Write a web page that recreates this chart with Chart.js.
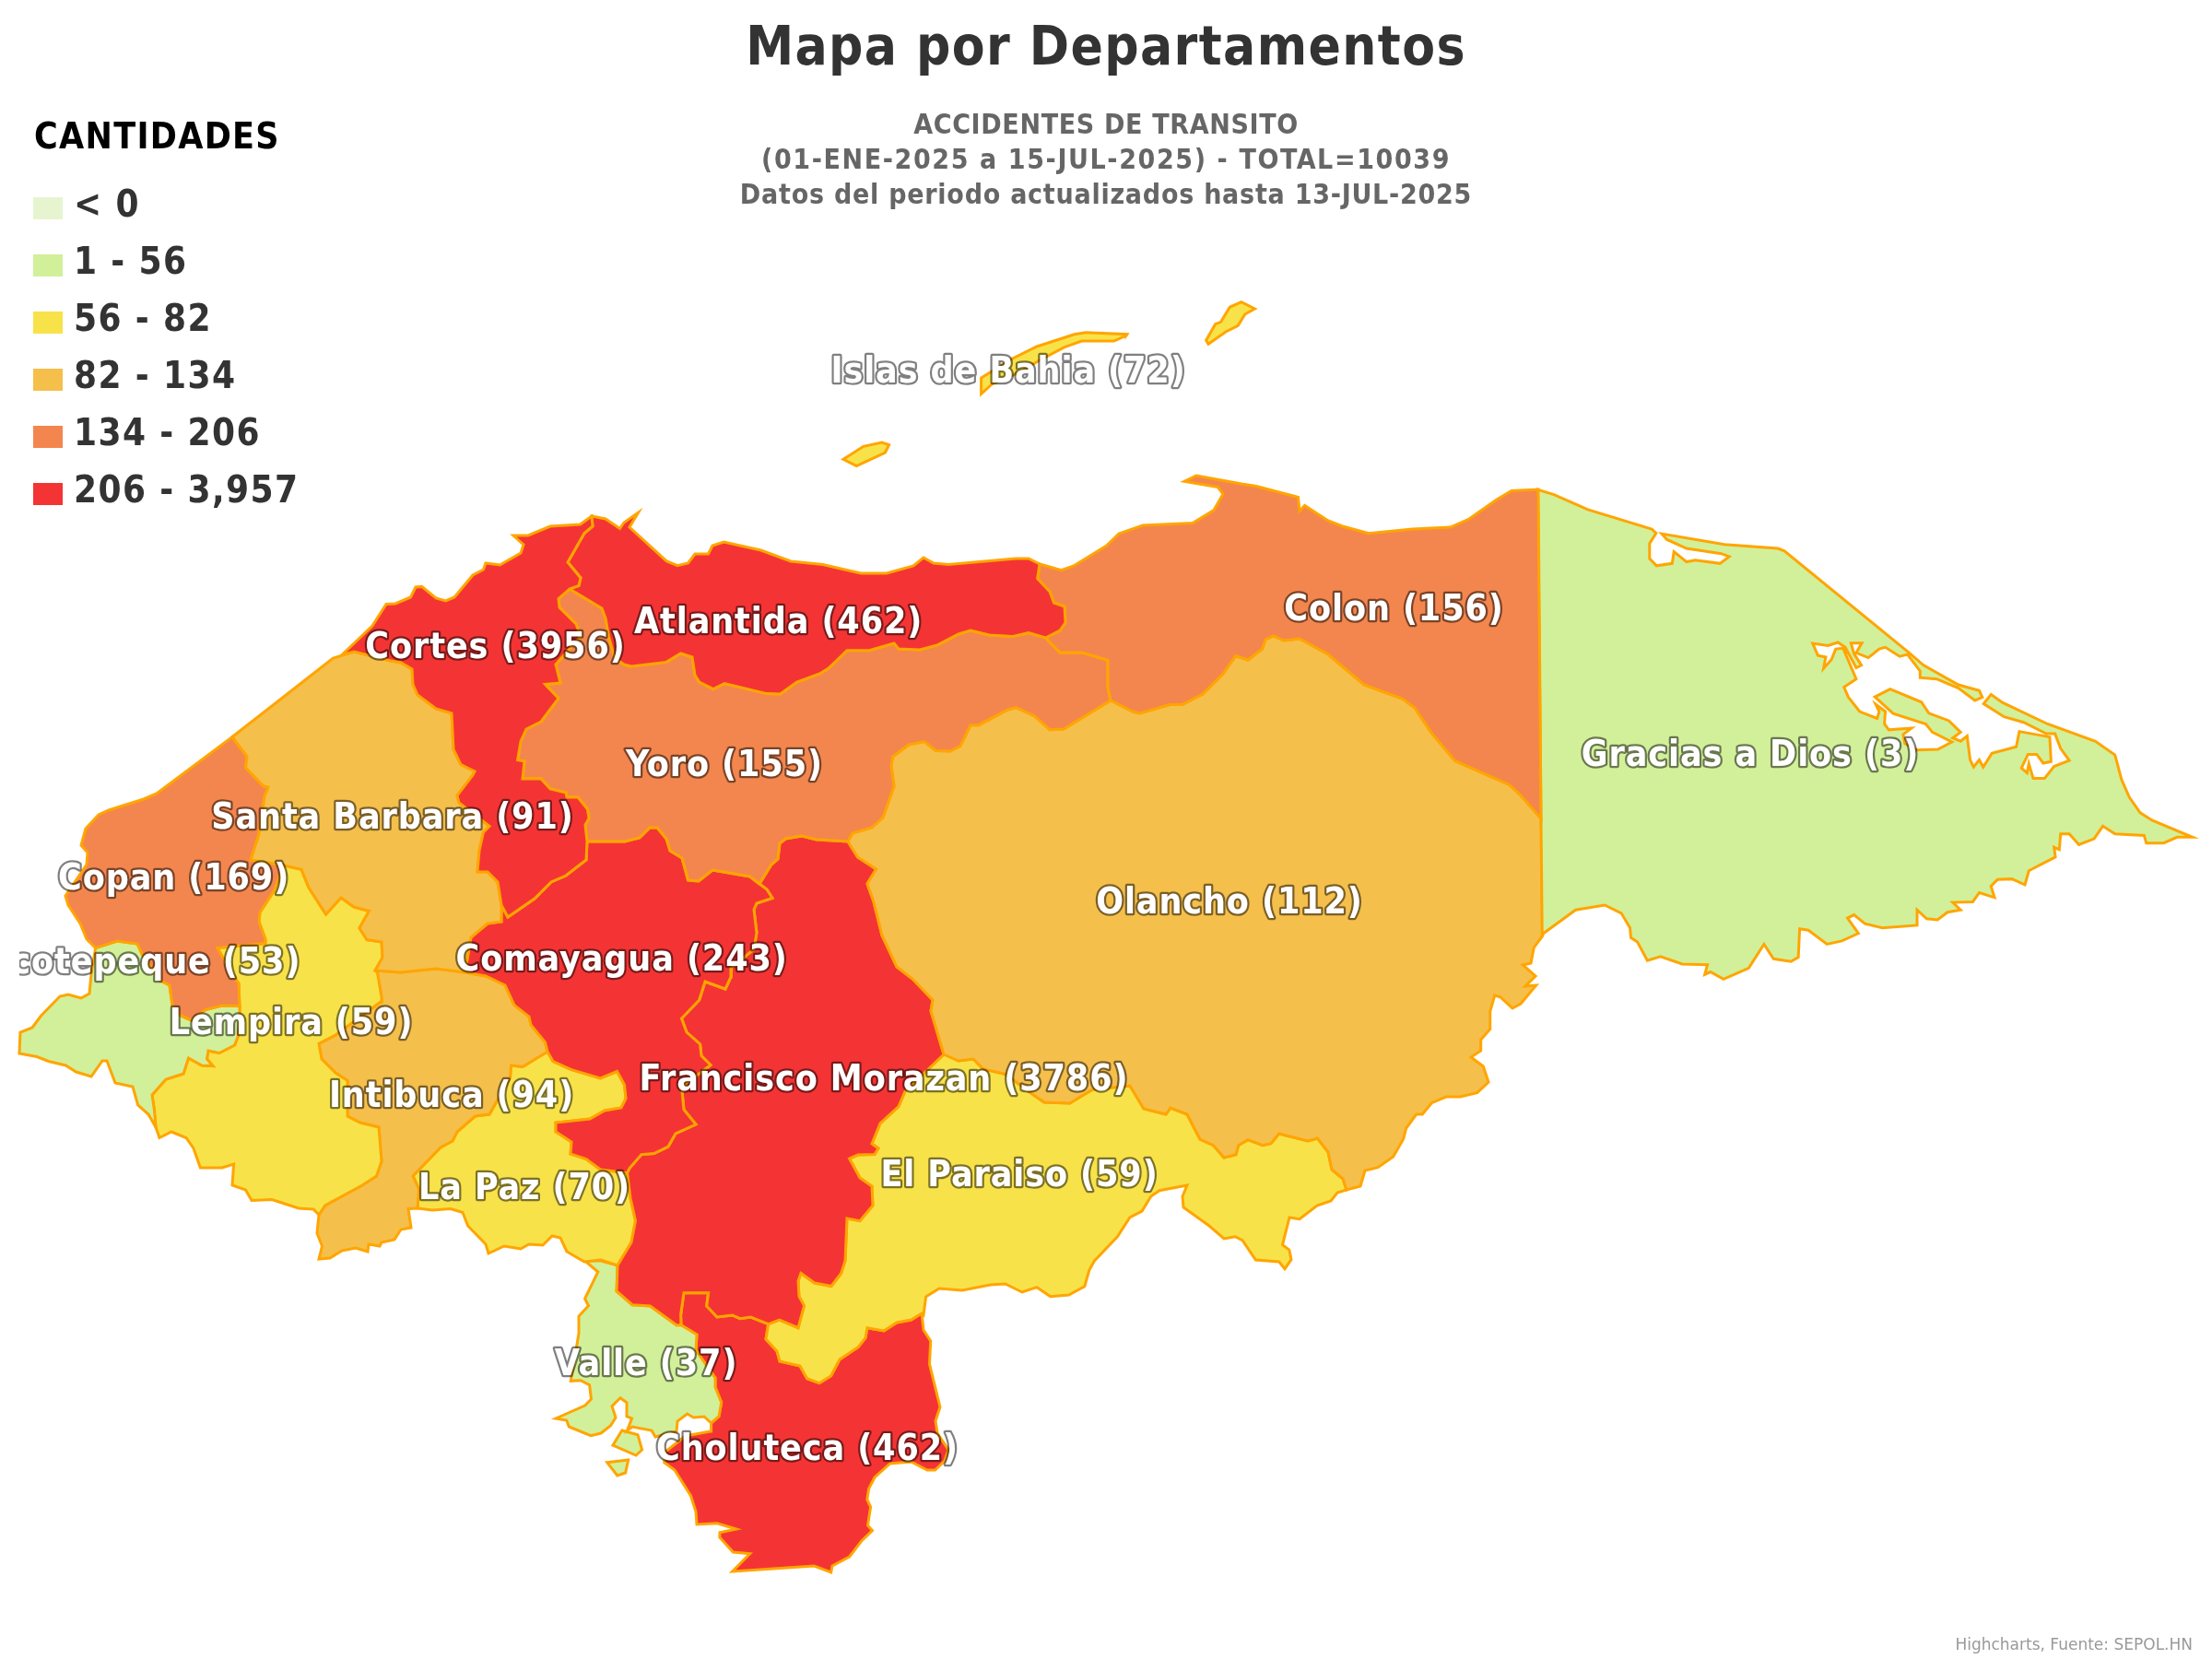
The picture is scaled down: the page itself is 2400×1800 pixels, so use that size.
<!DOCTYPE html>
<html><head><meta charset="utf-8">
<style>html,body{margin:0;padding:0;background:#fff}canvas{display:block}</style>
<script src="https://cdn.jsdelivr.net/npm/chart.js@4"></script>
</head><body><canvas id="c" width="2400" height="1800" style="width:2400px;height:1800px"></canvas>
<script>
// ---------- data ----------
const departments = ["Islas de Bahia","Cortes","Atlantida","Colon","Gracias a Dios","Yoro","Santa Barbara","Copan","Ocotepeque","Lempira","Comayagua","Olancho","Intibuca","Francisco Morazan","La Paz","El Paraiso","Valle","Choluteca"];
const totals = [72,3956,462,156,3,155,91,169,53,59,243,112,94,3786,70,59,37,462];
const labelX = [1094,537.5,844.6,1512.5,1899,786,426,188.6,154,316,674.6,1334,490,959,569,1106,701,876];
const labelY = [414.5,713.5,686.5,673.3,831.1,841.5,898.5,964.5,1056.3,1121.5,1052.9,990.5,1201.2,1183.1,1300.5,1286.9,1491.5,1583.5];
const legendLabels = ["< 0","1 - 56","56 - 82","82 - 134","134 - 206","206 - 3,957"];
const legendColors = ["#E6F5CF","#D2F09A","#F8E24A","#F5BF4C","#F3864E","#F43434"];
const classBreaks = [0,56,82,134,206,3957];
const titleText = "Mapa por Departamentos";
const subtitleLines = ["ACCIDENTES DE TRANSITO","(01-ENE-2025 a 15-JUL-2025) - TOTAL=10039","Datos del periodo actualizados hasta 13-JUL-2025"];
const legendTitle = "CANTIDADES";
const creditText = "Highcharts, Fuente: SEPOL.HN";

// outlines, in map units
const roatan = [[1064.6,410],[1098.6,389],[1125,376],[1165.7,362.7],[1178,360.7],[1222.9,362.7],[1222,364],[1208.6,370],[1173.6,370],[1155,376.7],[1126.4,391.7],[1108.6,403],[1076.4,416.7],[1064.6,427.3]];
const guanaja = [[1308.6,369.3],[1318.6,351.7],[1324.6,349.3],[1334.3,333.3],[1346.8,327.7],[1361.4,335],[1350.7,341],[1343.2,353.3],[1330,360],[1311,373.3]];
const utila = [[915,498.3],[937,484.3],[956.8,480],[964.6,482.7],[960.4,491],[929.3,505.7]];
const cortes = [[370.5,711],[404,679],[419,655.5],[429,655],[445.5,648],[451,637],[457.6,636.4],[473,649],[483.5,652],[493,648],[513,624],[524.5,618],[527,611],[542.4,613],[565,600],[568,591],[557,581],[573,581],[597,571],[629.5,569],[642,560],[643,571],[634,578.5],[616,610],[630,627],[628,635.4],[618,639],[606,649.5],[607,659],[625,677],[630,690.6],[603,721],[608,741],[591.5,742.5],[606,757.6],[587,783],[571,791],[565,804.5],[561.6,824.6],[569,826],[567,845],[587,845],[597,856],[614,860],[615,865],[627,865],[637.5,878],[639,888],[635,895],[637,913],[636,933],[614,950],[598,957],[580,975],[551,995],[544,982],[540,957],[529,946],[518,946],[520,923],[524.5,903],[531,896.5],[498,871],[496,863],[513,841],[515,837],[500,829.6],[492,813],[490,774],[473,769],[453,754],[448,742.5],[447,726],[435,719],[424,717],[384,707]];
const atlantida = [[642,560],[657,563],[672.5,573.5],[677,567],[692.6,556],[683,572],[723,608.6],[735,613.6],[746.6,611],[754,601],[768.5,601],[773,592],[785.4,588],[825.6,597],[858,609],[892.6,612.6],[934,622],[962,622],[991,614],[1002,605],[1013,611],[1029,612.6],[1102.4,606],[1116,606],[1128,612],[1125.6,627.7],[1139,642],[1143.5,654],[1155,658],[1156,675.6],[1150,684],[1134.5,692],[1116,686.6],[1098,690.6],[1073.4,689],[1053,684],[1040,688],[1017.6,699.7],[998,705],[975,704],[970,698],[943,705.7],[919,705.7],[899,725],[889.5,731],[864.5,740],[846.6,753],[832,752.6],[786,741.5],[774,747.6],[758.7,740],[754,732.5],[751,713],[738.6,709],[723,718.4],[685,723],[677,721],[667,714],[660.4,690.6],[657,670.6],[653,660],[618,639],[628,635.4],[630,627],[616,610],[634,578.5],[643,571]];
const colon = [[1285,522.4],[1298,516],[1347,525],[1363,527.5],[1408.5,539.5],[1410,554.6],[1415.6,548.5],[1441,565],[1456.7,571],[1485,578.7],[1532.6,574],[1573.7,572],[1594,563],[1624,542],[1640,532.5],[1669,531],[1672,888],[1648.7,861.6],[1637.5,851.5],[1578.6,825.4],[1552.7,794.6],[1535,768],[1521.4,758],[1480,743],[1441,710],[1410,693],[1393,695],[1381.7,690],[1373,694],[1369.6,704],[1354,716],[1340.6,711.6],[1327,731],[1305,753],[1282.6,764.5],[1269,764.5],[1236.6,774],[1229,772],[1205,760],[1202,746],[1202,716.4],[1174,708],[1150,708],[1134.5,692],[1150,684],[1156,675.6],[1155,658],[1143.5,654],[1139,642],[1125.6,627.7],[1128,612],[1151.5,618.7],[1165,614],[1200.6,592],[1214,579],[1240,570],[1294,567.6],[1317,553.6],[1327,536],[1321.4,528.5]];
const graciasSurvey = [[18,32],[55,47],[133,93],[280,153],[290,165],[275,197],[275,243],[291,265],[327,258],[331,222],[360,253],[380,248],[437,258],[458,237],[440,228],[360,212],[315,185],[303,167],[447,200],[570,212],[585,220],[870,530],[905,570],[985,630],[1033,648],[1040,668],[1023,678],[985,640],[935,612],[898,608],[897,588],[868,537],[850,543],[817,515],[803,520],[778,547],[750,532],[763,502],[738,502],[745,535],[762,570],[750,578],[725,515],[708,500],[685,510],[650,503],[662,540],[680,545],[675,580],[693,553],[703,520],[720,518],[750,612],[722,637],[732,668],[758,712],[798,733],[803,712],[795,690],[817,712],[815,750],[825,768],[877,763],[858,782],[862,810],[890,830],[938,828],[970,805],[925,775],[910,750],[835,718],[793,667],[828,643],[900,683],[917,717],[963,740],[990,775],[972,793],[990,803],[1005,787],[1012,860],[1020,882],[1033,860],[1042,882],[1062,840],[1118,820],[1125,773],[1195,790],[1198,865],[1180,870],[1165,843],[1145,843],[1130,885],[1143,900],[1147,872],[1157,917],[1183,917],[1205,880],[1240,862],[1220,825],[1207,780],[1187,780],[1135,745],[1090,728],[1043,688],[1060,660],[1087,685],[1190,750],[1300,803],[1345,845],[1360,920],[1378,975],[1403,1022],[1430,1045],[1523,1097],[1488,1097],[1457,1115],[1417,1115],[1412,1092],[1345,1087],[1317,1063],[1297,1102],[1262,1120],[1240,1087],[1220,1087],[1217,1135],[1205,1128],[1208,1158],[1147,1200],[1138,1243],[1108,1225],[1075,1227],[1060,1247],[1068,1282],[1033,1267],[1018,1295],[972,1297],[990,1320],[960,1327],[937,1350],[912,1347],[890,1320],[890,1367],[810,1375],[770,1362],[745,1335],[730,1345],[755,1392],[717,1415],[683,1425],[640,1382],[620,1378],[617,1465],[600,1478],[560,1470],[538,1425],[503,1498],[445,1532],[415,1510],[402,1518],[408,1488],[350,1486],[300,1463],[270,1475],[247,1418],[232,1405],[230,1375],[210,1330],[172,1305],[105,1320],[28,1395]];
const graciasADios = graciasSurvey.map(([a,b]) => [1660 + a / 2.119, 520 + b / 2.825]);
const yoro = [[618,639],[653,660],[657,670.6],[660.4,690.6],[667,714],[677,721],[685,723],[723,718.4],[738.6,709],[751,713],[754,732.5],[758.7,740],[774,747.6],[786,741.5],[832,752.6],[846.6,753],[864.5,740],[889.5,731],[899,725],[919,705.7],[943,705.7],[970,698],[975,704],[998,705],[1017.6,699.7],[1040,688],[1053,684],[1073.4,689],[1098,690.6],[1116,686.6],[1134.5,692],[1150,708],[1174,708],[1202,716.4],[1202,746],[1205,760],[1154,791],[1139,791.7],[1122.5,777],[1102.4,767.6],[1093.5,770],[1062,786.7],[1053,786.7],[1042,809.5],[1031,815],[1015.4,814.5],[1003,804.5],[986,808],[968.5,821],[967,831],[970,853],[958,887],[946,898],[925,904],[920,913],[886,911],[870,907],[852.4,910],[846,915],[844,932],[837,938],[824,959],[813.6,951],[773,944],[758,956],[746.6,955],[740,931],[727,923],[723,910],[713,898],[705,898],[694,909],[678,913],[637,913],[635,895],[639,888],[637.5,878],[627,865],[615,865],[614,860],[597,856],[587,845],[567,845],[569,826],[561.6,824.6],[565,804.5],[571,791],[587,783],[606,757.6],[591.5,742.5],[608,741],[603,721],[630,690.6],[625,677],[607,659],[606,649.5]];
const santaBarbara = [[252,799.5],[361.6,714],[384,707],[424,717],[435,719],[447,726],[448,742.5],[453,754],[473,769],[490,774],[492,813],[500,829.6],[515,837],[513,841],[496,863],[498,871],[531,896.5],[524.5,903],[520,923],[518,946],[529,946],[540,957],[544,982],[544,1000],[529,1002],[511,1017],[504.5,1055],[473,1051],[435,1055],[407,1053],[415,1039],[414,1022],[398,1019.6],[390,1007],[400.4,988.5],[384,984],[370,974],[353.6,992],[335,963],[327,943.4],[312.5,940],[308,939],[272,933],[281,905],[287,864],[291,854],[286,853],[266.5,833],[268,821]];
const copan = [[252,799.5],[268,821],[266.5,833],[286,853],[291,854],[287,864],[281,905],[272,933],[308,939],[297,967],[282,990],[281,1000],[288,1019],[288,1023.6],[236,1028.6],[252,1057],[259,1067],[260,1091.6],[241,1091],[223,1095.6],[207.6,1107],[196,1102],[187,1090.6],[184,1069],[174,1064],[154,1035],[149,1024],[127,1021],[103.6,1028.6],[94,1019],[87,1002],[74,982],[71,972],[94,938],[95,925],[88,917],[93,899],[107,884],[118,879],[156,867],[170,861]];
const ocotepeque = [[103.6,1028.6],[127,1021],[149,1024],[154,1035],[174,1064],[184,1069],[187,1090.6],[196,1102],[207.6,1107],[223,1095.6],[241,1091],[260,1091.6],[260,1110],[258,1125],[254.5,1134],[238,1142.5],[226,1140],[224.5,1149],[231,1156.5],[219,1156],[204.5,1148],[199,1165],[180,1171],[165,1188],[167.4,1204],[169,1223],[161,1209],[149.6,1199],[144,1179],[125,1175],[116,1151],[111,1151],[99,1168],[82.6,1163],[71.4,1156],[52.7,1151.5],[40,1146.5],[21,1143],[22,1120],[35,1115],[44.6,1102],[65,1081],[74,1079],[88,1083],[97,1078],[99,1057]];
const lempira = [[308,939],[297,967],[282,990],[281,1000],[288,1019],[288,1023.6],[236,1028.6],[252,1057],[259,1067],[260,1091.6],[260,1110],[258,1125],[254.5,1134],[238,1142.5],[226,1140],[224.5,1149],[231,1156.5],[219,1156],[204.5,1148],[199,1165],[180,1171],[165,1188],[167.4,1204],[169,1223],[173,1234.5],[186,1228],[202,1234.5],[210,1246],[217.4,1267],[241,1267],[253.6,1263],[252,1286],[266.5,1291],[273,1302.5],[295,1301.5],[324,1311],[340,1312],[346,1318],[352.7,1308],[393,1286],[408.5,1276],[414,1260],[411,1223],[390.6,1218],[377,1211],[377,1172.6],[364,1164],[349,1149],[346,1132.4],[364,1123],[413,1087],[414,1082],[409.4,1055],[407,1053],[415,1039],[414,1022],[398,1019.6],[390,1007],[400.4,988.5],[384,984],[370,974],[353.6,992],[335,963],[327,943.4],[312.5,940]];
const intibuca = [[407,1053],[435,1055],[473,1051],[504.5,1055],[527,1059],[548,1069],[558,1090.6],[574,1103],[576,1112],[591.5,1131],[594,1141],[567,1157.5],[554.5,1156],[553.6,1169],[531,1209],[515.6,1211],[496,1228],[491,1238],[478,1245],[448,1276],[454.5,1290],[453,1311],[443,1311.5],[446,1332],[435,1334],[428,1345],[414,1348],[412,1352],[400,1350],[399,1358],[386,1354],[371,1357],[358,1365],[346,1366],[349.5,1352],[344,1338],[346,1318],[352.7,1308],[393,1286],[408.5,1276],[414,1260],[411,1223],[390.6,1218],[377,1211],[377,1172.6],[364,1164],[349,1149],[346,1132.4],[364,1123],[413,1087],[414,1082],[409.4,1055]];
const laPaz = [[594,1141],[600,1151.5],[620,1160.7],[651.5,1170],[669.5,1162.5],[677.5,1177],[679,1192],[674,1202],[656,1205],[640,1214],[603,1218],[603,1228],[620,1239],[619,1252],[636,1257.5],[651.5,1269],[680.5,1272.7],[684,1300],[689.5,1324.6],[685,1348],[670,1373],[652,1367],[634,1369],[615,1358],[608,1343],[599,1341],[589,1351],[573.7,1350],[565,1355],[547,1352],[530,1360],[527,1350],[507.6,1330],[502,1315.5],[489,1311.5],[469,1313],[453,1311],[454.5,1290],[448,1276],[478,1245],[491,1238],[496,1228],[515.6,1211],[531,1209],[553.6,1169],[554.5,1156],[567,1157.5]];
const comayagua = [[551,995],[580,975],[598,957],[614,950],[636,933],[637,913],[678,913],[694,909],[705,898],[713,898],[723,910],[727,923],[740,931],[746.6,955],[758,956],[773,944],[813.6,951],[824,959],[832,965],[838,974.5],[821,980],[818,987],[821,1012],[818,1030],[793.5,1050],[793,1060],[787,1073],[765,1065],[758.7,1085],[739.5,1105],[745,1120],[759.6,1133],[761,1145.5],[771,1155.5],[745,1175],[740,1184],[742,1204],[755,1220],[733,1230],[725,1244],[709.6,1251.6],[696,1252.6],[683,1267.6],[680.5,1272.7],[651.5,1269],[636,1257.5],[619,1252],[620,1239],[603,1228],[603,1218],[640,1214],[656,1205],[674,1202],[679,1192],[677.5,1177],[669.5,1162.5],[651.5,1170],[620,1160.7],[600,1151.5],[594,1141],[591.5,1131],[576,1112],[574,1103],[558,1090.6],[548,1069],[527,1059],[504.5,1055],[511,1017],[529,1002],[544,1000],[544,982]];
const olancho = [[1205,760],[1229,772],[1236.6,774],[1269,764.5],[1282.6,764.5],[1305,753],[1327,731],[1340.6,711.6],[1354,716],[1369.6,704],[1373,694],[1381.7,690],[1393,695],[1410,693],[1441,710],[1480,743],[1521.4,758],[1535,768],[1552.7,794.6],[1578.6,825.4],[1637.5,851.5],[1648.7,861.6],[1672,888],[1674,1015],[1664.3,1028],[1661,1045],[1652.3,1047],[1666,1059],[1655,1070],[1666.7,1069],[1650,1089],[1641,1094],[1627.7,1081.7],[1621.7,1080],[1616.7,1097.7],[1616.7,1116.7],[1606.7,1128],[1606.7,1140],[1596,1147],[1609.3,1157],[1615,1174],[1602.7,1185.7],[1584.3,1190],[1569,1190],[1553.3,1196.7],[1543.3,1209],[1536.7,1209],[1525.7,1224],[1522.7,1235.7],[1511.7,1255],[1495,1266.7],[1481,1270],[1476,1287],[1461,1291],[1457,1279],[1445,1269],[1441,1250],[1429.4,1235],[1419,1238],[1387.7,1230],[1379,1240.7],[1370,1242.7],[1354,1236.7],[1343.7,1242.7],[1341,1252.7],[1328,1256],[1316.5,1242.7],[1302,1236],[1288,1209],[1270,1202],[1265,1209],[1241,1203],[1226,1178],[1185.6,1182],[1160.7,1197],[1133,1196],[1120,1187],[1091,1165.5],[1067,1160],[1056,1149],[1040,1151],[1024,1144],[1015,1113.6],[1010,1097],[1012,1085],[990,1062],[973,1049],[957,1015],[948,978.6],[941,959],[950.6,943],[930.5,930],[920,913],[925,904],[946,898],[958,887],[970,853],[967,831],[968.5,821],[986,808],[1003,804.5],[1015.4,814.5],[1031,815],[1042,809.5],[1053,786.7],[1062,786.7],[1093.5,770],[1102.4,767.6],[1122.5,777],[1139,791.7],[1154,791]];
const franciscoMorazan = [[824,959],[837,938],[844,932],[846,915],[852.4,910],[870,907],[886,911],[920,913],[930.5,930],[950.6,943],[941,959],[948,978.6],[957,1015],[973,1049],[990,1062],[1012,1085],[1010,1097],[1015,1113.6],[1024,1144],[982,1184],[975,1200.7],[955,1219],[946,1241],[953,1246],[949,1252.6],[931,1253],[921.6,1257],[933,1278],[946,1287],[947,1308],[933,1324.6],[919,1322],[917,1368],[912.7,1381.5],[902,1395.5],[883.7,1392],[869,1381.5],[866,1390],[867,1406.6],[872.5,1416.6],[866,1440.7],[845.7,1432],[833.6,1436.7],[814.5,1429],[803,1430.7],[794.6,1427],[778,1429],[766.7,1417],[768.6,1402.7],[742,1402.7],[738.6,1426.7],[739,1437.7],[734,1437.7],[705.4,1417],[686,1415.7],[669,1401],[670,1373],[685,1348],[689.5,1324.6],[684,1300],[680.5,1272.7],[683,1267.6],[696,1252.6],[709.6,1251.6],[725,1244],[733,1230],[755,1220],[742,1204],[740,1184],[745,1175],[771,1155.5],[761,1145.5],[759.6,1133],[745,1120],[739.5,1105],[758.7,1085],[765,1065],[787,1073],[793,1060],[793.5,1050],[818,1030],[821,1012],[818,987],[821,980],[838,974.5],[832,965]];
const elParaiso = [[1024,1144],[1040,1151],[1056,1149],[1067,1160],[1091,1165.5],[1120,1187],[1133,1196],[1160.7,1197],[1185.6,1182],[1226,1178],[1241,1203],[1265,1209],[1270,1202],[1288,1209],[1302,1236],[1316.5,1242.7],[1328,1256],[1341,1252.7],[1343.7,1242.7],[1354,1236.7],[1370,1242.7],[1379,1240.7],[1387.7,1230],[1419,1238],[1429.4,1235],[1441,1250],[1445,1269],[1457,1279],[1461,1291],[1451,1294],[1444,1303],[1429,1308],[1410,1322.7],[1399,1321],[1391.5,1350.7],[1398.8,1356],[1401,1366.7],[1394,1376.7],[1387.7,1369],[1362.4,1367],[1348,1345.7],[1340,1341.7],[1328,1344],[1312,1330],[1284,1310],[1283,1298],[1288,1286],[1258,1291.7],[1248.8,1298],[1239,1314],[1225.8,1321],[1212.4,1341.7],[1187.5,1368],[1181.8,1378],[1176.8,1395.7],[1159.6,1405],[1139.7,1406.7],[1125,1396.7],[1109,1402],[1090.7,1393],[1074.6,1394],[1044,1400],[1019,1398],[1004.6,1407],[1002,1426.7],[1000,1425],[988.6,1432],[973,1435],[959,1444],[941,1440.7],[939,1451.7],[931,1461.7],[911,1475],[901.7,1492.7],[889,1500.7],[875.7,1495.7],[868,1482],[846,1477],[843,1466],[831,1453],[833.6,1436.7],[845.7,1432],[866,1440.7],[872.5,1416.6],[867,1406.6],[866,1390],[869,1381.5],[883.7,1392],[902,1395.5],[912.7,1381.5],[917,1368],[919,1322],[933,1324.6],[947,1308],[946,1287],[933,1278],[921.6,1257],[931,1253],[949,1252.6],[953,1246],[946,1241],[955,1219],[975,1200.7],[982,1184]];
const valle = [[634.6,1368],[652,1368],[670,1373],[669,1401],[686,1415.7],[705.4,1417],[734,1437.7],[739,1437.7],[756,1448],[755,1465],[776,1495],[776,1505],[782.7,1521.7],[780,1536.7],[771.6,1544],[764,1537],[752.5,1538],[745.6,1534],[735,1542],[734,1553],[711,1559],[707,1552],[686,1548],[680.5,1552],[685.5,1539],[680,1536.7],[680,1521.7],[673,1516.7],[664,1525.7],[668,1538],[662.6,1546.7],[652,1555],[641,1557.7],[617.4,1548],[614.7,1541],[603,1539],[634.6,1525],[641.5,1518],[639.6,1502.7],[630,1497.7],[619.3,1498.3],[628,1446.7],[628,1428],[638.5,1416.7],[634.6,1409],[648.8,1380]];
const valleIsland = [[674.8,1552],[692,1556.7],[696.6,1573],[690,1579],[665,1568]];
const valleIslet = [[658.7,1586.7],[681.7,1584],[678.6,1598],[669.8,1601]];
const choluteca = [[742,1402.7],[768.6,1402.7],[766.7,1417],[778,1429],[794.6,1427],[803,1430.7],[814.5,1429],[833.6,1436.7],[831,1453],[843,1466],[846,1477],[868,1482],[875.7,1495.7],[889,1500.7],[901.7,1492.7],[911,1475],[931,1461.7],[939,1451.7],[941,1440.7],[959,1444],[973,1435],[988.6,1432],[1000,1425],[1002,1443],[1009.7,1455],[1008.5,1480],[1020,1526.7],[1015,1541.7],[1017,1555],[1029,1573],[1025,1585],[1014.6,1595],[1006,1595],[988.6,1586],[965.7,1588],[949,1603],[942.7,1615],[940.8,1627],[944.6,1635],[941.5,1655],[946.5,1660.7],[935,1671.7],[921.7,1689],[903,1699],[901.7,1706],[883.4,1699],[794.6,1705],[813.7,1685.7],[795.4,1684],[780.8,1668],[781,1662.7],[799,1659],[778,1652.7],[756,1654],[755,1640],[749.4,1622.7],[732,1595],[720.7,1586.7],[722,1575],[743.7,1558],[771,1553],[771.6,1544],[780,1536.7],[782.7,1521.7],[776,1505],[776,1495],[755,1465],[756,1448],[739,1437.7],[738.6,1426.7]];

const outlines = {
  "Islas de Bahia":[roatan,guanaja,utila],"Cortes":[cortes],"Atlantida":[atlantida],"Colon":[colon],
  "Gracias a Dios":[graciasADios],"Yoro":[yoro],"Santa Barbara":[santaBarbara],"Copan":[copan],
  "Ocotepeque":[ocotepeque],"Lempira":[lempira],"Comayagua":[comayagua],"Olancho":[olancho],
  "Intibuca":[intibuca],"Francisco Morazan":[franciscoMorazan],"La Paz":[laPaz],"El Paraiso":[elParaiso],
  "Valle":[valle,valleIsland,valleIslet],"Choluteca":[choluteca]
};

// ---------- build ----------
const FONT = "'DejaVu Sans Condensed'";
const subtitleSpacing = ['0.65px','1.6px','0.75px'];
const colorFor = v => { for (let i = 0; i < classBreaks.length; i++) if (v <= classBreaks[i]) return legendColors[i]; return legendColors[legendColors.length-1]; };
const datasets = [];
departments.forEach((name, i) => {
  outlines[name].forEach(poly => {
    const pts = poly.concat([poly[0], poly[1]]).map(p => ({x:p[0], y:p[1]}));
    datasets.push({label:name, data:pts, showLine:true, tension:0, fill:'shape', parsing:false, normalized:false,
      backgroundColor:colorFor(totals[i]), borderColor:'#FFA500', borderWidth:3, borderJoinStyle:'miter',
      pointRadius:0, pointHoverRadius:0, clip:false});
  });
});

const mapExtras = {
  id:'mapExtras',
  beforeDraw(chart){ chart.ctx.letterSpacing = '1.4px'; }, // for the chart title
  beforeDatasetsDraw(chart){ chart.ctx.letterSpacing = '0px'; },
  afterDatasetsDraw(chart){
    const ctx = chart.ctx, sx = chart.scales.x, sy = chart.scales.y;
    // data labels
    ctx.save();
    ctx.font = "bold 39px " + FONT; ctx.letterSpacing='0.9px'; ctx.textAlign='center'; ctx.textBaseline='alphabetic'; ctx.lineJoin='round';
    departments.forEach((name,i) => {
      const x = sx.getPixelForValue(labelX[i]), y = sy.getPixelForValue(labelY[i]);
      const t = name + " (" + totals[i] + ")";
      ctx.save();
      ctx.beginPath(); ctx.rect(21,0,2379,1800); ctx.clip();
      ctx.lineWidth = 4.5; ctx.strokeStyle='rgba(0,0,0,0.5)'; ctx.strokeText(t,x,y);
      ctx.fillStyle='#ffffff'; ctx.fillText(t,x,y);
      ctx.restore();
    });
    ctx.restore();
    // subtitle lines
    ctx.save();
    ctx.textAlign='center'; ctx.textBaseline='alphabetic'; ctx.font="bold 30px "+FONT; ctx.fillStyle='#666666';
    subtitleLines.forEach((l,k) => {
      ctx.letterSpacing = subtitleSpacing[k];
      ctx.fillText(l,1200,145+38*k);
    });
    ctx.restore();
    // legend
    ctx.save();
    ctx.textAlign='left'; ctx.textBaseline='alphabetic';
    ctx.letterSpacing='1.3px'; ctx.font="bold 39px "+FONT; ctx.fillStyle='#000000'; ctx.fillText(legendTitle,37,161);
    ctx.letterSpacing='1.4px'; ctx.font="bold 40px "+FONT;
    legendLabels.forEach((l,k) => {
      ctx.fillStyle=legendColors[k]; ctx.fillRect(36,214+62*k,32,24);
      ctx.fillStyle='#333333'; ctx.fillText(l,80,235.4+62*k);
    });
    // credit
    ctx.letterSpacing='0px'; ctx.textAlign='right'; ctx.font="17px 'DejaVu Sans'"; ctx.fillStyle='#999999';
    ctx.fillText(creditText,2379,1790);
    ctx.restore();
  }
};

Chart.defaults.font.family = FONT;
new Chart(document.getElementById('c'), {
  type:'scatter',
  data:{datasets},
  plugins:[mapExtras],
  options:{
    responsive:false, animation:false, devicePixelRatio:1,
    layout:{padding:0},
    events:[],
    plugins:{
      legend:{display:false}, tooltip:{enabled:false},
      title:{display:true,text:titleText,color:'#333333',font:{size:58,weight:'bold',lineHeight:1.2},padding:{top:20,bottom:150.4}},
      subtitle:{display:false}
    },
    scales:{
      x:{type:'linear',min:0,max:2400,display:false},
      y:{type:'linear',min:240,max:1800,reverse:true,display:false}
    }
  }
});
</script></body></html>
